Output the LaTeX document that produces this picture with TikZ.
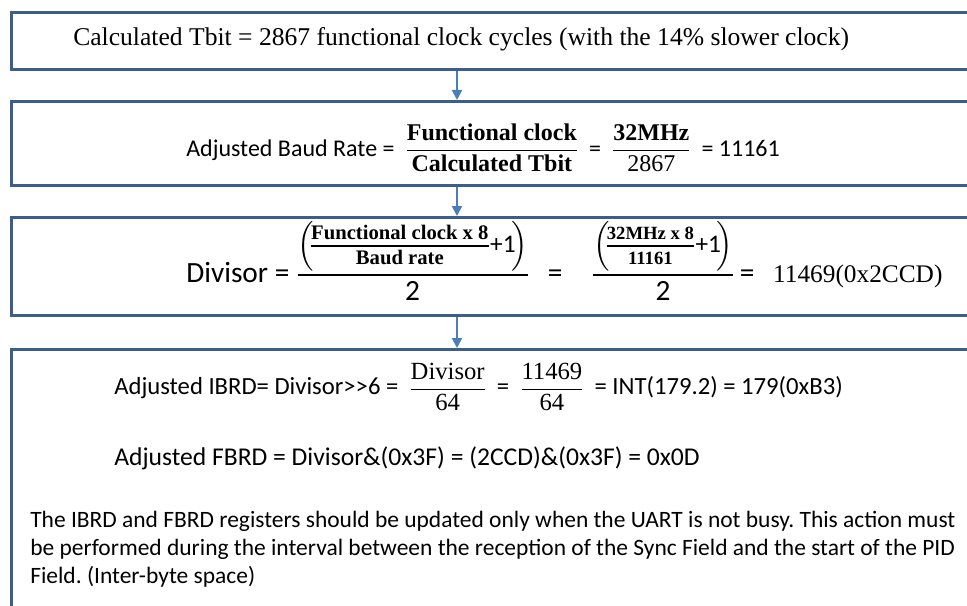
\documentclass[tikz,border=0pt]{standalone}
\usepackage{amsmath}
\usepackage{fontspec}
\setmainfont{Carlito}
\newfontfamily\timesfont{Liberation Serif}
\newcommand{\fracfont}{\timesfont\bfseries}
\newcommand{\barfrac}[2]{\hspace{8pt}\genfrac{}{}{0.9pt}{0}{#1}{#2}\hspace{8pt}}
\newcommand{\smallbarfrac}[2]{\genfrac{}{}{0.8pt}{1}{#1\rule[-3.5pt]{0pt}{3.5pt}}{\rule{0pt}{12.5pt}#2}}
\newcommand{\lownum}[1]{\lower4pt\hbox{$\displaystyle#1$}}
\newcommand{\plusone}{\mbox{\fontsize{19}{22}\selectfont+1}}
\usetikzlibrary{arrows.meta}
\frenchspacing

\definecolor{boxblue}{HTML}{3B5E8C}
\definecolor{arrowblue}{HTML}{4A7EBB}

\tikzset{
  stagebox/.style={draw=boxblue, line width=2.4pt, fill=white, inner sep=0pt,
    anchor=north west, minimum width=735pt},
  flowarrow/.style={draw=arrowblue, line width=1.5pt, -{Triangle[width=7.5pt,length=7.5pt]}},
  eqtext/.style={anchor=west, inner sep=0pt, font=\fontsize{18}{21}\selectfont},
}

\begin{document}
\begin{tikzpicture}[x=0.75pt, y=-0.75pt]
\useasboundingbox (0,0) rectangle (967,606);
\clip (0,0) rectangle (967,606);

\node[stagebox, minimum height=42.75pt] (tbit) at (10,11) {};
\node[stagebox, minimum height=63pt] (baud) at (10,100) {};
\node[stagebox, minimum height=73.5pt] (divisor) at (10,216) {};
\node[stagebox, minimum height=202.5pt] (regs) at (10,348) {};

\coordinate (axis) at (457,0);
\draw[flowarrow] (tbit.south -| axis) -- (baud.north -| axis);
\draw[flowarrow] (baud.south -| axis) -- (divisor.north -| axis);
\draw[flowarrow] (divisor.south -| axis) -- (regs.north -| axis);

\node[eqtext, font=\timesfont\fontsize{19.2}{22}\selectfont] (tbittext) at (73,39)
  {Calculated Tbit = 2867 functional clock cycles (with the 14\% slower clock)};

\node[eqtext] (bauddeq) at (186,148)
  {Adjusted Baud Rate =$\barfrac{\mbox{\fracfont Functional clock}}{\mbox{\fracfont Calculated Tbit}}$=$\barfrac{\mbox{\fracfont 32MHz}}{\mbox{\timesfont 2867}}$=
   11161};

\node[eqtext, anchor=base west, font=\fontsize{22}{26}\selectfont] (diveq) at (186,282)
  {Divisor = $\genfrac{}{}{0.9pt}{0}{\lownum{\Bigl(\!\smallbarfrac{\mbox{\fracfont\fontsize{15.5}{18}\selectfont Functional clock x 8}}{\mbox{\fracfont\fontsize{15.5}{18}\selectfont Baud rate}}\plusone\!\Bigr)}}{\mbox{2}}$\hspace{14pt}=\hspace{22pt}$\genfrac{}{}{0.9pt}{0}{\lownum{\Bigl(\!\smallbarfrac{\mbox{\fracfont\fontsize{14}{16}\selectfont 32MHz x 8}}{\mbox{\fracfont\fontsize{14}{16}\selectfont 11161}}\plusone\!\Bigr)}}{\mbox{2}}$\hspace{4pt}=\hspace{14pt}{\timesfont\fontsize{19}{22}\selectfont 11469(0x2CCD)}};

\node[eqtext, font=\fontsize{18.5}{22}\selectfont] (ibrdeq) at (114,387)
  {Adjusted IBRD= Divisor\mbox{>}\mbox{>}6 =$\barfrac{\mbox{\timesfont Divisor}}{\mbox{\timesfont 64}}$=$\barfrac{\mbox{\timesfont 11469}}{\mbox{\timesfont 64}}$=
   INT(179.2) = 179(0xB3)};

\node[eqtext, font=\fontsize{19.2}{22}\selectfont] (fbrdeq) at (114,458)
  {Adjusted FBRD = Divisor\&(0x3F) = (2CCD)\&(0x3F) = 0x0D};

\node[eqtext, align=left, font=\fontsize{17.6}{21}\selectfont] (note) at (30,549)
  {The IBRD and FBRD registers should be updated only when the UART is not busy. This action must\\
   be performed during the interval between the reception of the Sync Field and the start of the PID\\
   Field. (Inter-byte space)};
\end{tikzpicture}
\end{document}
